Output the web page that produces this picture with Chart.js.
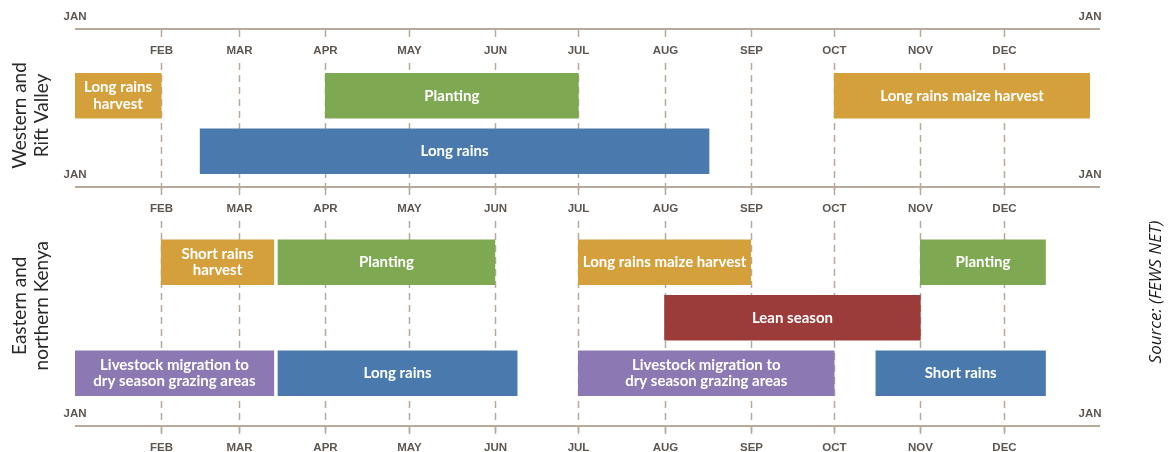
<!DOCTYPE html>
<html lang="en">
<head>
<meta charset="UTF-8">
<title>Kenya seasonal calendar</title>
<script src="https://cdn.jsdelivr.net/npm/chart.js"></script>
<style>
  html, body { margin: 0; padding: 0; background: #fff; }
</style>
</head>
<body>
<canvas id="calendar" width="1170" height="452"></canvas>
<script>
// months on a day-of-year axis
const monthNames = ['JAN', 'FEB', 'MAR', 'APR', 'MAY', 'JUN', 'JUL', 'AUG', 'SEP', 'OCT', 'NOV', 'DEC'];
const monthStarts = [0, 31, 59, 90, 120, 151, 181, 212, 243, 273, 304, 334];
const yearEnd = 365;

// rows of the calendar (gap row holds the middle month axis)
const lanes = ['west1', 'west2', 'gap', 'east1', 'east2', 'east3'];
const regionNames = [['Western and', 'Rift Valley'], ['Eastern and', 'northern Kenya']];

const activityLabels = [
  'Long rains\nharvest', 'Planting', 'Long rains maize harvest', 'Long rains',
  'Short rains\nharvest', 'Planting', 'Long rains maize harvest', 'Planting',
  'Lean season',
  'Livestock migration to\ndry season grazing areas', 'Long rains',
  'Livestock migration to\ndry season grazing areas', 'Short rains'
];
const activityLane = ['west1', 'west1', 'west1', 'west2',
  'east1', 'east1', 'east1', 'east1',
  'east2',
  'east3', 'east3', 'east3', 'east3'];
const activityStart = [0, 90, 273, 45, 31, 73, 181, 304, 212, 0, 73, 181, 288];
const activityEnd = [31, 181, 365, 228, 71.5, 151, 243, 349, 304, 71.5, 159, 273, 349];
const activityKind = ['harvest', 'planting', 'harvest', 'rains',
  'harvest', 'planting', 'harvest', 'planting',
  'lean',
  'livestock', 'rains', 'livestock', 'rains'];

const kindColours = {
  harvest: '#d4a03b',
  planting: '#7ea851',
  rains: '#4a7aad',
  lean: '#9b3c3a',
  livestock: '#8c79b4'
};

const axisLineY = [29, 187, 426];
const lineColour = '#b8aa9b';

const calendarFrame = {
  id: 'calendarFrame',
  beforeDatasetsDraw(chart) {
    const ctx = chart.ctx;
    const x = chart.scales.x;
    ctx.save();

    // dashed month lines
    ctx.strokeStyle = lineColour;
    ctx.lineWidth = 1.5;
    ctx.setLineDash([7, 5]);
    for (let m = 1; m < 12; m++) {
      const px = Math.round(x.getPixelForValue(monthStarts[m])) + 0.5;
      for (let k = 0; k < 2; k++) {
        ctx.beginPath();
        ctx.moveTo(px, axisLineY[k] + 34);
        ctx.lineTo(px, axisLineY[k + 1] + 8);
        ctx.stroke();
      }
    }
    ctx.setLineDash([]);

    const left = x.getPixelForValue(0);
    const right = x.getPixelForValue(yearEnd);
    axisLineY.forEach(y => {
      ctx.strokeStyle = lineColour;
      ctx.lineWidth = 2;
      ctx.beginPath();
      ctx.moveTo(left, y);
      ctx.lineTo(right + 10, y);
      ctx.stroke();

      ctx.lineWidth = 1.5;
      ctx.fillStyle = '#5e5650';
      ctx.font = 'bold 11.5px "Liberation Sans", Arial, sans-serif';
      ctx.textAlign = 'center';
      ctx.textBaseline = 'middle';
      for (let m = 1; m < 12; m++) {
        const px = Math.round(x.getPixelForValue(monthStarts[m])) + 0.5;
        ctx.beginPath();
        ctx.moveTo(px, y);
        ctx.lineTo(px, y + 8);
        ctx.stroke();
        ctx.fillText(monthNames[m], px, y + 22);
      }
      ctx.fillText(monthNames[0], left, y - 12);
      ctx.fillText(monthNames[0], right, y - 12);
    });
    ctx.restore();
  },
  afterDatasetsDraw(chart) {
    const ctx = chart.ctx;
    const meta = chart.getDatasetMeta(0);
    ctx.save();
    ctx.fillStyle = '#ffffff';
    ctx.font = 'bold 15px Lato, sans-serif';
    ctx.textAlign = 'center';
    ctx.textBaseline = 'middle';
    meta.data.forEach((bar, i) => {
      const lines = activityLabels[i].split('\n');
      const cx = (bar.x + bar.base) / 2;
      const lh = 16.5;
      lines.forEach((t, j) => {
        ctx.fillText(t, cx, bar.y + (j - (lines.length - 1) / 2) * lh);
      });
    });

    // region titles on the left
    const y = chart.scales.y;
    const centres = [
      (y.getPixelForValue(0) + y.getPixelForValue(1)) / 2 - 8,
      (y.getPixelForValue(3) + y.getPixelForValue(5)) / 2 - 12
    ];
    ctx.fillStyle = '#2a2a2a';
    ctx.font = '19px Lato, sans-serif';
    regionNames.forEach((name, r) => {
      ctx.save();
      ctx.translate(0, centres[r]);
      ctx.rotate(-Math.PI / 2);
      name.forEach((t, j) => ctx.fillText(t, 0, 20 + j * 22));
      ctx.restore();
    });

    // source note
    ctx.save();
    ctx.translate(1156, 292);
    ctx.rotate(-Math.PI / 2);
    ctx.fillStyle = '#1e1e1e';
    ctx.font = 'italic 17px "Open Sans", sans-serif';
    ctx.fillText('Source: (FEWS NET)', 0, 0);
    ctx.restore();
    ctx.restore();
  }
};

new Chart(document.getElementById('calendar'), {
  type: 'bar',
  data: {
    labels: lanes,
    datasets: [{
      data: activityLabels.map((l, i) => ({ x: [activityStart[i], activityEnd[i]], y: activityLane[i] })),
      backgroundColor: activityKind.map(k => kindColours[k]),
      borderWidth: 0,
      barThickness: 45
    }]
  },
  options: {
    indexAxis: 'y',
    responsive: false,
    animation: false,
    layout: { padding: { left: 75, right: 80, top: 68, bottom: 51 } },
    scales: {
      x: { type: 'linear', min: 0, max: yearEnd, display: false },
      y: { type: 'category', labels: lanes, display: false }
    },
    plugins: {
      legend: { display: false },
      tooltip: { enabled: false }
    }
  },
  plugins: [calendarFrame]
});
</script>
</body>
</html>
